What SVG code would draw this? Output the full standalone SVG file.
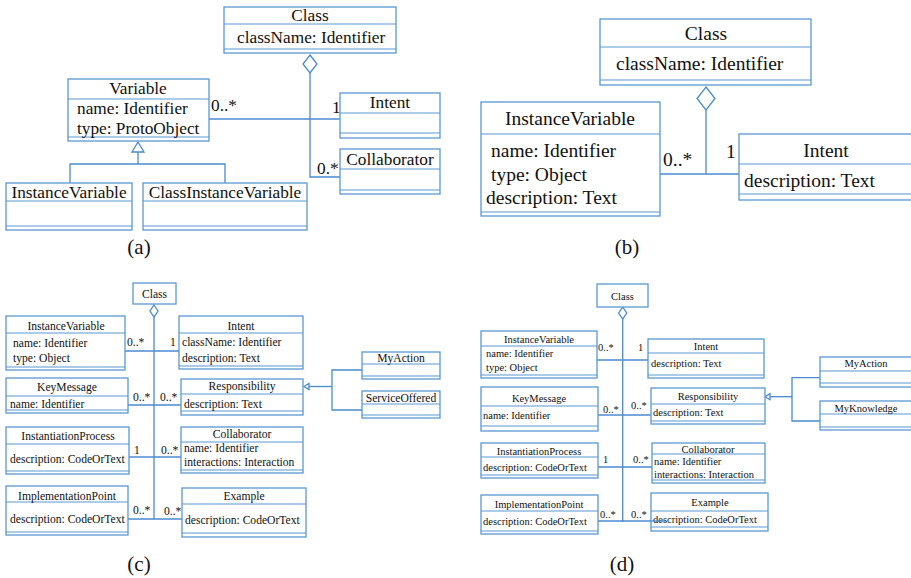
<svg xmlns="http://www.w3.org/2000/svg" width="911" height="578" viewBox="0 0 911 578">
<style>
.bx{fill:#fff;stroke:#5b97d3;stroke-width:1.3}
.dv{stroke:#5b97d3;stroke-width:1.2}
.ln{fill:none;stroke:#4a8ad0;stroke-width:1.3}
.dm{fill:#fff;stroke:#4a8ad0;stroke-width:1.3}
text{font-family:"Liberation Serif","Times New Roman",serif;fill:#111}
.fa{font-size:17.3px}
.fb{font-size:19.5px}
.fc{font-size:11.6px}
.fd{font-size:10.5px}
.cap{font-size:21px}
.m{text-anchor:middle}
</style>

<!-- connectors -->
<g id="connectors">
  <!-- (a) -->
  <polygon class="dm" points="310,55 317,64 310,73 303,64"/>
  <polyline class="ln" points="310,73 310,177 340,177"/>
  <line class="ln" x1="209" y1="119" x2="340" y2="119"/>
  <polygon class="dm" points="138,142 144,152 132,152"/>
  <polyline class="ln" points="138,152 138,164"/>
  <polyline class="ln" points="70,183 70,164 225,164 225,183"/>
  <!-- (b) -->
  <polygon class="dm" points="706,87 715,98.5 706,110 697,98.5"/>
  <line class="ln" x1="706" y1="110" x2="706" y2="174"/>
  <line class="ln" x1="660" y1="174" x2="739" y2="174"/>
  <!-- (c) -->
  <polygon class="dm" points="154,305 158,311 154,317 150,311"/>
  <line class="ln" x1="154" y1="317" x2="154" y2="519"/>
  <line class="ln" x1="125" y1="351" x2="179" y2="351"/>
  <line class="ln" x1="128" y1="405" x2="181" y2="405"/>
  <line class="ln" x1="129" y1="457" x2="181" y2="457"/>
  <line class="ln" x1="128" y1="519" x2="182" y2="519"/>
  <polygon class="dm" points="304,386.5 309,383.5 309,389.5"/>
  <line class="ln" x1="309" y1="386.5" x2="332" y2="386.5"/>
  <polyline class="ln" points="362,370 332,370 332,410 362,410"/>
  <!-- (d) -->
  <polygon class="dm" points="622.7,307 626.7,313 622.7,319 618.7,313"/>
  <line class="ln" x1="622.7" y1="319" x2="622.7" y2="522"/>
  <line class="ln" x1="597" y1="360" x2="648" y2="360"/>
  <line class="ln" x1="598" y1="415" x2="651" y2="415"/>
  <line class="ln" x1="598" y1="467" x2="652" y2="467"/>
  <line class="ln" x1="598" y1="521" x2="666" y2="521"/>
  <polygon class="dm" points="765,396.7 770,393.7 770,399.7"/>
  <line class="ln" x1="770" y1="396.7" x2="792" y2="396.7"/>
  <polyline class="ln" points="820,377.7 792,377.7 792,421 820,421"/>
</g>

<!-- multiplicities -->
<g id="labels">
  <text class="fa" x="211" y="111">0..*</text>
  <text class="fa" x="332" y="113">1</text>
  <text class="fa" x="317" y="174">0.*</text>
  <text class="fb" x="663" y="166">0..*</text>
  <text class="fb" x="726" y="158">1</text>
  <text class="fc" x="127" y="346">0..*</text>
  <text class="fc" x="170" y="346">1</text>
  <text class="fc" x="133" y="401">0..*</text>
  <text class="fc" x="160" y="401">0..*</text>
  <text class="fc" x="134" y="454">1</text>
  <text class="fc" x="161" y="454">0..*</text>
  <text class="fc" x="133" y="514">0..*</text>
  <text class="fc" x="164" y="515">0..*</text>
  <text class="fd" x="598" y="351">0..*</text>
  <text class="fd" x="638" y="351">1</text>
  <text class="fd" x="603" y="413">0..*</text>
  <text class="fd" x="631" y="409">0..*</text>
  <text class="fd" x="603" y="463">1</text>
  <text class="fd" x="633" y="463">0..*</text>
  <text class="fd" x="600" y="518">0..*</text>
  <text class="fd" x="631" y="518">0..*</text>
  <text class="cap m" x="139" y="254">(a)</text>
  <text class="cap m" x="627" y="254">(b)</text>
  <text class="cap m" x="139" y="571">(c)</text>
  <text class="cap m" x="622" y="571">(d)</text>
</g>

<!-- (a) nodes -->
<g id="a-class">
  <rect class="bx" x="224" y="7" width="172" height="46"/>
  <line class="dv" x1="224" y1="24" x2="396" y2="24"/>
  <line class="dv" x1="224" y1="49" x2="396" y2="49"/>
  <text class="fa m" x="310" y="21">Class</text>
  <text class="fa" x="237" y="42.5">className: Identifier</text>
</g>
<g id="a-variable">
  <rect class="bx" x="68" y="79" width="141" height="62"/>
  <line class="dv" x1="68" y1="99" x2="209" y2="99"/>
  <line class="dv" x1="68" y1="137" x2="209" y2="137"/>
  <text class="fa m" x="138" y="94">Variable</text>
  <text class="fa" x="77" y="114">name: Identifier</text>
  <text class="fa" x="77" y="134">type: ProtoObject</text>
</g>
<g id="a-intent">
  <rect class="bx" x="340" y="93" width="100" height="45"/>
  <line class="dv" x1="340" y1="113" x2="440" y2="113"/>
  <line class="dv" x1="340" y1="133" x2="440" y2="133"/>
  <text class="fa m" x="390" y="108">Intent</text>
</g>
<g id="a-collaborator">
  <rect class="bx" x="340" y="149" width="100" height="45"/>
  <line class="dv" x1="340" y1="169" x2="440" y2="169"/>
  <line class="dv" x1="340" y1="190" x2="440" y2="190"/>
  <text class="fa m" x="390" y="165">Collaborator</text>
</g>
<g id="a-instancevariable">
  <rect class="bx" x="6" y="183" width="126" height="47"/>
  <line class="dv" x1="6" y1="201" x2="132" y2="201"/>
  <line class="dv" x1="6" y1="226" x2="132" y2="226"/>
  <text class="fa m" x="69" y="198">InstanceVariable</text>
</g>
<g id="a-classinstancevariable">
  <rect class="bx" x="143" y="183" width="164" height="47"/>
  <line class="dv" x1="143" y1="201" x2="307" y2="201"/>
  <line class="dv" x1="143" y1="226" x2="307" y2="226"/>
  <text class="fa m" x="225" y="198">ClassInstanceVariable</text>
</g>

<!-- (b) nodes -->
<g id="b-class">
  <rect class="bx" x="600" y="19" width="211" height="66"/>
  <line class="dv" x1="600" y1="47" x2="811" y2="47"/>
  <line class="dv" x1="600" y1="80" x2="811" y2="80"/>
  <text class="fb m" x="706" y="40">Class</text>
  <text class="fb" x="616" y="70">className: Identifier</text>
</g>
<g id="b-instancevariable">
  <rect class="bx" x="481" y="102" width="179" height="114"/>
  <line class="dv" x1="481" y1="134" x2="660" y2="134"/>
  <line class="dv" x1="481" y1="212" x2="660" y2="212"/>
  <text class="fb m" x="570" y="125">InstanceVariable</text>
  <text class="fb" x="491" y="157">name: Identifier</text>
  <text class="fb" x="491" y="181">type: Object</text>
  <text class="fb" x="486" y="204">description: Text</text>
</g>
<g id="b-intent">
  <rect class="bx" x="739" y="134" width="180" height="66"/>
  <line class="dv" x1="739" y1="164" x2="919" y2="164"/>
  <line class="dv" x1="739" y1="194" x2="919" y2="194"/>
  <text class="fb m" x="826" y="157">Intent</text>
  <text class="fb" x="744" y="187">description: Text</text>
</g>

<!-- (c) nodes -->
<g id="c-class">
  <rect class="bx" x="133" y="283" width="43" height="21"/>
  <text class="fc m" x="154.5" y="298">Class</text>
</g>
<g id="c-instancevariable">
  <rect class="bx" x="6" y="316" width="119" height="54"/>
  <line class="dv" x1="6" y1="333" x2="125" y2="333"/>
  <line class="dv" x1="6" y1="367" x2="125" y2="367"/>
  <text class="fc m" x="66" y="330">InstanceVariable</text>
  <text class="fc" x="13" y="347">name: Identifier</text>
  <text class="fc" x="13" y="362">type: Object</text>
</g>
<g id="c-intent">
  <rect class="bx" x="179" y="316" width="124" height="53"/>
  <line class="dv" x1="179" y1="333" x2="303" y2="333"/>
  <line class="dv" x1="179" y1="366" x2="303" y2="366"/>
  <text class="fc m" x="241" y="330">Intent</text>
  <text class="fc" x="182" y="346">className: Identifier</text>
  <text class="fc" x="182" y="362">description: Text</text>
</g>
<g id="c-keymessage">
  <rect class="bx" x="6" y="378" width="122" height="35"/>
  <line class="dv" x1="6" y1="396" x2="128" y2="396"/>
  <line class="dv" x1="6" y1="410" x2="128" y2="410"/>
  <text class="fc m" x="67" y="391">KeyMessage</text>
  <text class="fc" x="10" y="408">name: Identifier</text>
</g>
<g id="c-responsibility">
  <rect class="bx" x="181" y="379" width="122" height="36"/>
  <line class="dv" x1="181" y1="394" x2="303" y2="394"/>
  <line class="dv" x1="181" y1="411" x2="303" y2="411"/>
  <text class="fc m" x="242" y="390">Responsibility</text>
  <text class="fc" x="184" y="408">description: Text</text>
</g>
<g id="c-myaction">
  <rect class="bx" x="362" y="352" width="78" height="27"/>
  <line class="dv" x1="362" y1="364" x2="440" y2="364"/>
  <line class="dv" x1="362" y1="376" x2="440" y2="376"/>
  <text class="fc m" x="401" y="362">MyAction</text>
</g>
<g id="c-serviceoffered">
  <rect class="bx" x="362" y="391" width="78" height="27"/>
  <line class="dv" x1="362" y1="404" x2="440" y2="404"/>
  <line class="dv" x1="362" y1="415" x2="440" y2="415"/>
  <text class="fc m" x="401" y="402">ServiceOffered</text>
</g>
<g id="c-instantiationprocess">
  <rect class="bx" x="6" y="427" width="123" height="47"/>
  <line class="dv" x1="6" y1="444" x2="129" y2="444"/>
  <line class="dv" x1="6" y1="471" x2="129" y2="471"/>
  <text class="fc m" x="68" y="440">InstantiationProcess</text>
  <text class="fc" x="10" y="463">description: CodeOrText</text>
</g>
<g id="c-collaborator">
  <rect class="bx" x="181" y="427" width="122" height="46"/>
  <line class="dv" x1="181" y1="442" x2="303" y2="442"/>
  <line class="dv" x1="181" y1="470" x2="303" y2="470"/>
  <text class="fc m" x="242" y="438">Collaborator</text>
  <text class="fc" x="184" y="452">name: Identifier</text>
  <text class="fc" x="184" y="466">interactions: Interaction</text>
</g>
<g id="c-implementationpoint">
  <rect class="bx" x="6" y="486" width="122" height="49"/>
  <line class="dv" x1="6" y1="502" x2="128" y2="502"/>
  <line class="dv" x1="6" y1="532" x2="128" y2="532"/>
  <text class="fc m" x="67" y="500">ImplementationPoint</text>
  <text class="fc" x="10" y="523">description: CodeOrText</text>
</g>
<g id="c-example">
  <rect class="bx" x="182" y="488" width="124" height="49"/>
  <line class="dv" x1="182" y1="504" x2="306" y2="504"/>
  <line class="dv" x1="182" y1="533" x2="306" y2="533"/>
  <text class="fc m" x="244" y="500">Example</text>
  <text class="fc" x="185" y="524">description: CodeOrText</text>
</g>

<!-- (d) nodes -->
<g id="d-class">
  <rect class="bx" x="597" y="284" width="51" height="23"/>
  <text class="fd m" x="622.5" y="300">Class</text>
</g>
<g id="d-instancevariable">
  <rect class="bx" x="481" y="331" width="116" height="47"/>
  <line class="dv" x1="481" y1="346" x2="597" y2="346"/>
  <line class="dv" x1="481" y1="375" x2="597" y2="375"/>
  <text class="fd m" x="539" y="343">InstanceVariable</text>
  <text class="fd" x="486" y="357">name: Identifier</text>
  <text class="fd" x="486" y="371">type: Object</text>
</g>
<g id="d-intent">
  <rect class="bx" x="648" y="339" width="116" height="39"/>
  <line class="dv" x1="648" y1="353" x2="764" y2="353"/>
  <line class="dv" x1="648" y1="375" x2="764" y2="375"/>
  <text class="fd m" x="706" y="350">Intent</text>
  <text class="fd" x="651" y="367">description: Text</text>
</g>
<g id="d-keymessage">
  <rect class="bx" x="481" y="387" width="117" height="44"/>
  <line class="dv" x1="481" y1="406" x2="598" y2="406"/>
  <line class="dv" x1="481" y1="426" x2="598" y2="426"/>
  <text class="fd m" x="539" y="402">KeyMessage</text>
  <text class="fd" x="483" y="419">name: Identifier</text>
</g>
<g id="d-responsibility">
  <rect class="bx" x="651" y="388" width="114" height="36"/>
  <line class="dv" x1="651" y1="404" x2="765" y2="404"/>
  <line class="dv" x1="651" y1="421" x2="765" y2="421"/>
  <text class="fd m" x="708" y="400">Responsibility</text>
  <text class="fd" x="653" y="416">description: Text</text>
</g>
<g id="d-myaction">
  <rect class="bx" x="820" y="357" width="100" height="30"/>
  <line class="dv" x1="820" y1="371" x2="920" y2="371"/>
  <line class="dv" x1="820" y1="383" x2="920" y2="383"/>
  <text class="fd m" x="866" y="367">MyAction</text>
</g>
<g id="d-myknowledge">
  <rect class="bx" x="820" y="401" width="100" height="29"/>
  <line class="dv" x1="820" y1="414" x2="920" y2="414"/>
  <line class="dv" x1="820" y1="427" x2="920" y2="427"/>
  <text class="fd m" x="866" y="412">MyKnowledge</text>
</g>
<g id="d-instantiationprocess">
  <rect class="bx" x="481" y="443" width="117" height="35"/>
  <line class="dv" x1="481" y1="457" x2="598" y2="457"/>
  <line class="dv" x1="481" y1="475" x2="598" y2="475"/>
  <text class="fd m" x="539" y="455">InstantiationProcess</text>
  <text class="fd" x="483" y="471">description: CodeOrText</text>
</g>
<g id="d-collaborator">
  <rect class="bx" x="652" y="443" width="113" height="40"/>
  <line class="dv" x1="652" y1="454" x2="765" y2="454"/>
  <line class="dv" x1="652" y1="480" x2="765" y2="480"/>
  <text class="fd m" x="708" y="453">Collaborator</text>
  <text class="fd" x="654" y="465">name: Identifier</text>
  <text class="fd" x="654" y="478">interactions: Interaction</text>
</g>
<g id="d-implementationpoint">
  <rect class="bx" x="481" y="495" width="117" height="39"/>
  <line class="dv" x1="481" y1="511" x2="598" y2="511"/>
  <line class="dv" x1="481" y1="531" x2="598" y2="531"/>
  <text class="fd m" x="539" y="508">ImplementationPoint</text>
  <text class="fd" x="483" y="525">description: CodeOrText</text>
</g>
<g id="d-example">
  <rect class="bx" x="651" y="493" width="117" height="38"/>
  <line class="dv" x1="651" y1="511" x2="768" y2="511"/>
  <line class="dv" x1="651" y1="527" x2="768" y2="527"/>
  <text class="fd m" x="710" y="506">Example</text>
  <text class="fd" x="653" y="523">description: CodeOrText</text>
</g>
<line class="ln" x1="651" y1="521" x2="666" y2="521"/>
</svg>
